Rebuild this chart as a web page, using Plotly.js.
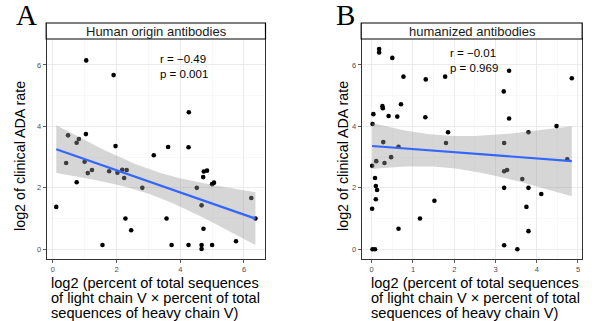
<!DOCTYPE html>
<html>
<head>
<meta charset="utf-8">
<script src="https://cdn.plot.ly/plotly-3.0.1.min.js"></script>
<style>html,body{margin:0;padding:0;background:#fff;}#chart{width:595px;height:321px;}</style>
</head>
<body>
<div id="chart"></div>
<script>
// ---- Data ----
const panelLabels = ["A", "B"];
const stripTitles = ["Human origin antibodies", "humanized antibodies"];
const statsA = ["r = \u22120.49", "p = 0.001"];
const statsB = ["r = \u22120.01", "p = 0.969"];
const yTitle = "log2 of clinical ADA rate";
const xTitleLines = ["log2 (percent of total sequences", "of light chain V \u00d7 percent of total", "sequences of heavy chain V)"];

const humanX = [1.05,1.91,4.27,0.11,0.48,0.42,0.75,0.75,0.82,1.04,1.00,1.10,1.23,1.56,1.77,1.97,2.03,2.18,2.32,2.24,2.28,2.46,2.81,3.17,3.62,3.57,3.73,4.26,4.26,4.52,4.67,4.67,4.67,4.72,4.74,4.84,4.73,5.00,5.06,5.00,5.75,6.23,6.36];
const humanY = [6.15,5.67,4.46,1.38,3.71,2.81,2.18,3.47,3.59,3.75,2.85,2.48,2.58,0.14,2.54,3.36,2.49,2.59,2.58,2.32,1.00,0.62,2.00,3.06,3.33,1.00,0.14,3.32,0.14,2.00,1.43,0.14,0.01,2.35,2.53,2.56,0.67,2.12,2.17,0.14,0.26,1.67,1.00];

const humanizedX = [0.18,0.18,0.50,0.77,1.31,1.78,3.33,3.20,4.85,0.26,0.27,0.71,0.04,0.41,0.62,1.30,3.33,0.02,4.48,1.85,3.80,0.28,1.80,3.21,0.65,0.01,0.11,0.31,0.47,4.74,3.21,3.28,3.65,0.08,0.10,0.13,0.10,0.01,3.21,3.80,4.11,1.52,3.75,1.17,0.65,3.80,3.21,3.53,0.02,0.08];
const humanizedY = [6.52,6.41,6.23,5.62,5.53,5.62,5.81,5.14,5.57,4.66,4.59,4.72,4.40,4.34,4.32,4.30,4.26,4.08,4.01,3.81,3.81,3.49,3.46,3.46,3.34,2.72,2.87,2.81,3.00,2.93,2.54,2.58,2.29,2.32,2.06,1.93,1.63,1.32,2.00,2.00,1.80,1.58,1.38,1.00,0.67,0.59,0.13,0.00,0.00,0.00];

const xTicksA = [0, 2, 4, 6];
const xTicksB = [0, 1, 2, 3, 4, 5];
const yTicks = [0, 2, 4, 6];

// ---- linear model + 95% CI (as geom_smooth(method = "lm")) ----
function tQuant(df) {
  const z = 1.959963985;
  return z + (z*z*z + z) / (4*df) + (5*Math.pow(z,5) + 16*z*z*z + 3*z) / (96*df*df);
}
function lmFit(xs, ys, nGrid) {
  const n = xs.length;
  const mx = xs.reduce((a,b)=>a+b,0)/n, my = ys.reduce((a,b)=>a+b,0)/n;
  let sxx = 0, sxy = 0;
  for (let i=0;i<n;i++){ sxx += (xs[i]-mx)**2; sxy += (xs[i]-mx)*(ys[i]-my); }
  const b = sxy/sxx, a = my - b*mx;
  let sse = 0;
  for (let i=0;i<n;i++){ sse += (ys[i]-a-b*xs[i])**2; }
  const s = Math.sqrt(sse/(n-2));
  const t = tQuant(n-2);
  const lo = Math.min(...xs), hi = Math.max(...xs);
  const gx = [], gy = [], up = [], dn = [];
  for (let k=0;k<nGrid;k++){
    const x = lo + (hi-lo)*k/(nGrid-1);
    const f = a + b*x;
    const se = s*Math.sqrt(1/n + (x-mx)**2/sxx);
    gx.push(x); gy.push(f); up.push(f + t*se); dn.push(f - t*se);
  }
  return {gx, gy, up, dn};
}

const fitA = lmFit(humanX, humanY, 80);
const fitB = lmFit(humanizedX, humanizedY, 80);

const W = 595, H = 321;
const PX = p => p / W;
const PY = p => 1 - p / H;

function bandTrace(fit, xa, ya) {
  return {
    x: fit.gx.concat(fit.gx.slice().reverse()),
    y: fit.up.concat(fit.dn.slice().reverse()),
    xaxis: xa, yaxis: ya, type: 'scatter', mode: 'lines',
    fill: 'toself', fillcolor: 'rgba(153,153,153,0.4)',
    line: {width: 0}, hoverinfo: 'skip', showlegend: false
  };
}
function lineTrace(fit, xa, ya) {
  return {x: fit.gx, y: fit.gy, xaxis: xa, yaxis: ya, type: 'scatter', mode: 'lines',
    line: {color: '#3366FF', width: 2.2}, showlegend: false};
}
function pointTrace(xs, ys, xa, ya) {
  return {x: xs, y: ys, xaxis: xa, yaxis: ya, type: 'scatter', mode: 'markers',
    marker: {color: '#000', size: 4.6}, showlegend: false};
}

const traces = [
  pointTrace(humanX, humanY, 'x', 'y'),
  bandTrace(fitA, 'x', 'y'),
  lineTrace(fitA, 'x', 'y'),
  pointTrace(humanizedX, humanizedY, 'x2', 'y2'),
  bandTrace(fitB, 'x2', 'y2'),
  lineTrace(fitB, 'x2', 'y2')
];

const fam = 'Liberation Sans, Arial, Helvetica, sans-serif';
const yDom = [PY(259.3), PY(39)];
function axisBase(extra) {
  return Object.assign({
    showline: true, linecolor: '#333333', linewidth: 1, mirror: true,
    ticks: 'outside', ticklen: 3, tickwidth: 0.8, tickcolor: '#333333',
    tickfont: {family: fam, size: 7.5, color: '#4d4d4d'},
    showgrid: true, gridcolor: '#ebebeb', gridwidth: 1,
    zeroline: false, fixedrange: true
  }, extra);
}

const layout = {
  width: W, height: H,
  margin: {l: 0, r: 0, t: 0, b: 0},
  paper_bgcolor: '#fff', plot_bgcolor: '#fff',
  showlegend: false,
  xaxis: axisBase({domain: [PX(46.7), PX(265)], range: [-0.19, 6.66], tickvals: xTicksA, ticktext: xTicksA.map(String),
    minor: {dtick: 1, tick0: 0, showgrid: true, gridcolor: '#f3f3f3', gridwidth: 0.6, ticks: ''}, anchor: 'y'}),
  yaxis: axisBase({domain: yDom, range: [-0.326, 6.846], tickvals: yTicks, ticktext: yTicks.map(String),
    minor: {dtick: 1, tick0: 0, showgrid: true, gridcolor: '#f3f3f3', gridwidth: 0.6, ticks: ''}, anchor: 'x'}),
  xaxis2: axisBase({domain: [PX(361.7), PX(581.7)], range: [-0.2425, 5.09], tickvals: xTicksB, ticktext: xTicksB.map(String),
    minor: {dtick: 0.5, tick0: 0, showgrid: true, gridcolor: '#f3f3f3', gridwidth: 0.6, ticks: ''}, anchor: 'y2'}),
  yaxis2: axisBase({domain: yDom, range: [-0.326, 6.846], tickvals: yTicks, ticktext: yTicks.map(String),
    minor: {dtick: 1, tick0: 0, showgrid: true, gridcolor: '#f3f3f3', gridwidth: 0.6, ticks: ''}, anchor: 'x2'}),
  shapes: [
    {type: 'rect', xref: 'paper', yref: 'paper', x0: PX(46.2), x1: PX(265.5), y0: PY(39), y1: PY(23),
      line: {color: '#000', width: 1.2}, fillcolor: '#fff'},
    {type: 'rect', xref: 'paper', yref: 'paper', x0: PX(361.2), x1: PX(582.2), y0: PY(39), y1: PY(23),
      line: {color: '#000', width: 1.2}, fillcolor: '#fff'}
  ],
  annotations: []
};

const ann = layout.annotations;
function addText(text, x, y, opts) {
  ann.push(Object.assign({text: text, xref: 'paper', yref: 'paper', x: PX(x), y: PY(y),
    showarrow: false, xanchor: 'center', yanchor: 'middle',
    font: {family: fam, size: 13, color: '#000'}}, opts || {}));
}
// panel letters
addText(panelLabels[0], 26.5, 15, {font: {family: 'Liberation Serif, Times New Roman, serif', size: 29, color: '#000'}});
addText(panelLabels[1], 345, 15, {font: {family: 'Liberation Serif, Times New Roman, serif', size: 29, color: '#000'}});
// strip titles
addText(stripTitles[0], 156, 31.5, {font: {family: fam, size: 13, color: '#1a1a1a'}});
addText(stripTitles[1], 472, 31.5, {font: {family: fam, size: 13, color: '#1a1a1a'}});
// stats
addText(statsA[0], 158.3, 59.3, {xanchor: 'left', font: {family: fam, size: 11.5, color: '#000'}});
addText(statsA[1], 158.3, 74.5, {xanchor: 'left', font: {family: fam, size: 11.5, color: '#000'}});
addText(statsB[0], 447.7, 52.7, {xanchor: 'left', font: {family: fam, size: 11.5, color: '#000'}});
addText(statsB[1], 447.7, 68.3, {xanchor: 'left', font: {family: fam, size: 11.5, color: '#000'}});
// y titles
addText(yTitle, 20, 156, {textangle: -90, font: {family: fam, size: 14.3, color: '#000'}});
addText(yTitle, 343, 156, {textangle: -90, font: {family: fam, size: 14.3, color: '#000'}});
// x titles (three left-justified lines each)
const lineY = [283, 298, 313];
[49, 369].forEach(x0 => {
  xTitleLines.forEach((t, i) => addText(t, x0, lineY[i], {xanchor: 'left', font: {family: fam, size: 14.6, color: '#000'}}));
});

Plotly.newPlot('chart', traces, layout, {staticPlot: true, displayModeBar: false});
</script>
</body>
</html>
